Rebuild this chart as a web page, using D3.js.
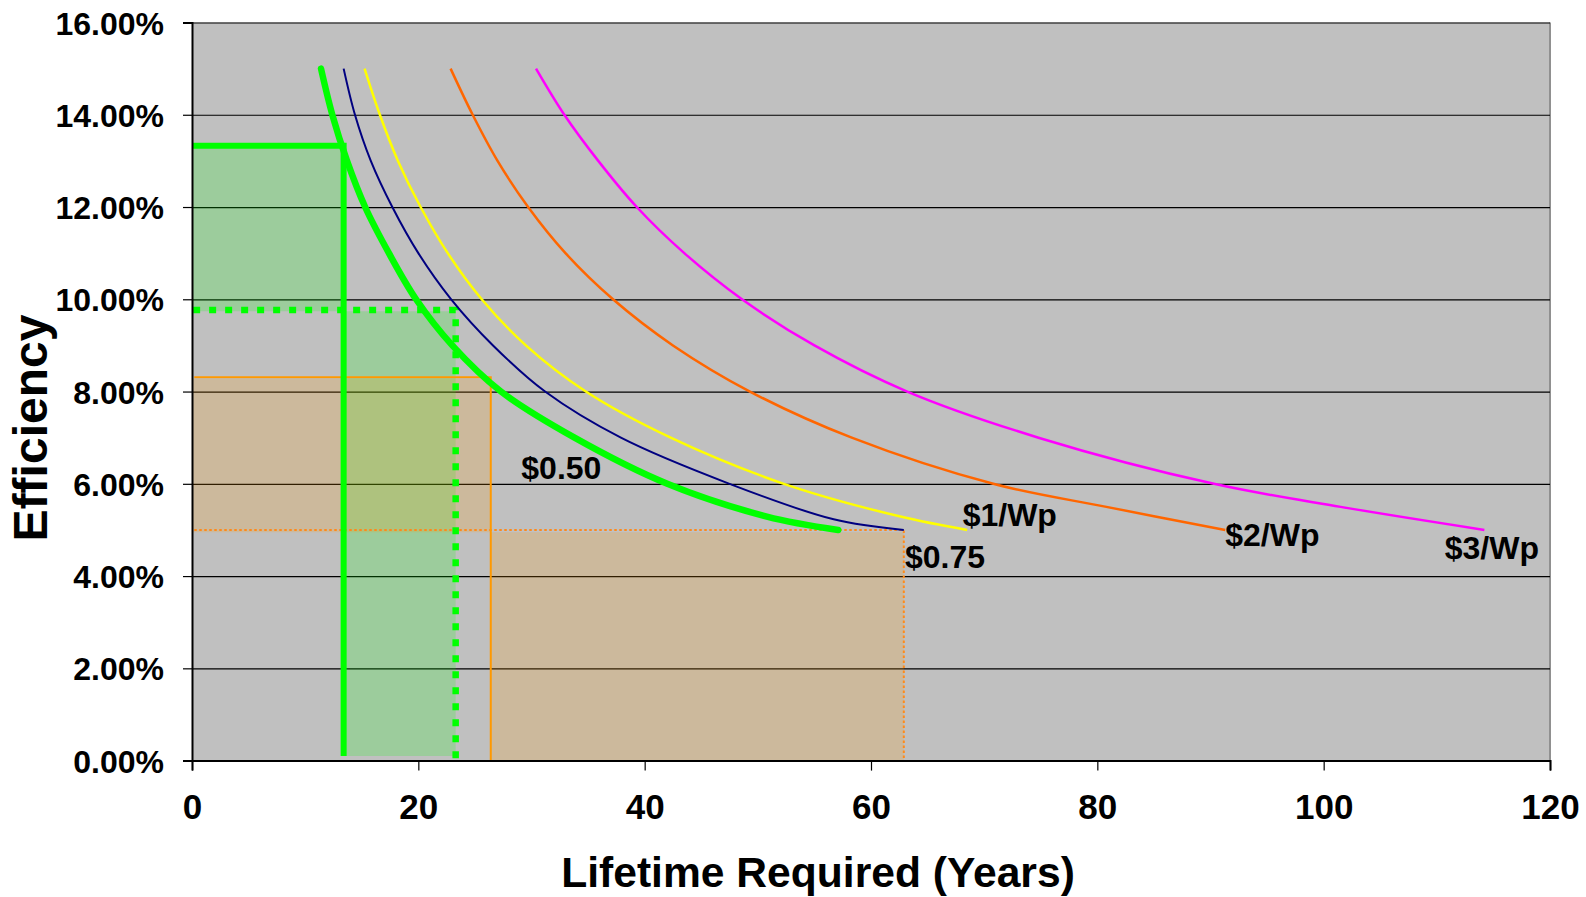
<!DOCTYPE html>
<html>
<head>
<meta charset="utf-8">
<script src="https://cdn.jsdelivr.net/npm/d3@7"></script>
<style>
  html, body { margin: 0; padding: 0; background: #ffffff; }
  svg { display: block; font-family: "Liberation Sans", Arial, sans-serif; font-weight: bold; }
</style>
</head>
<body>
<svg id="chart" width="1586" height="897"></svg>
<script>
// ---------------- DATA ----------------
const xTicks = [0, 20, 40, 60, 80, 100, 120];
const yTicks = [0, 2, 4, 6, 8, 10, 12, 14, 16];

// [lifetime (years), efficiency (%)]
const curve050 = [[11.4,15],[12.4,14],[13.7,13],[15.3,12],[17.4,11],[19.8,10],[23.0,9],[27.3,8],[33.8,7],[42.0,6],[50.8,5.29],[57.1,5]];
const curve075 = [[13.4,15],[14.4,14],[15.8,13],[17.7,12],[20.0,11],[22.9,10],[26.6,9],[31.2,8],[37.9,7],[47.5,6],[56.7,5.23],[62.9,5]];
const curve1 = [[15.25,15],[16.6,14],[18.2,13],[20.2,12],[22.6,11],[25.6,10],[29.5,9],[34.8,8],[42.3,7],[52.3,6],[62.6,5.29],[68.5,5]];
const curve2 = [[22.85,15],[24.8,14],[27.0,13],[29.7,12],[33.0,11],[37.2,10],[42.5,9],[49.3,8],[58.3,7],[70.8,6],[80.8,5.5],[91.3,5]];
const curve3 = [[30.4,15],[32.9,14],[35.9,13],[39.3,12],[43.5,11],[48.6,10],[55.0,9],[63.2,8],[74.8,7],[90.3,6],[101.5,5.5],[114.2,5]];

const curveNames = ["$0.50", "$0.75", "$1/Wp", "$2/Wp", "$3/Wp"];
const curveColors = ["#00ff00", "#000080", "#ffff00", "#ff6600", "#ff00ff"];
const curveWidths = [6.5, 2, 2.5, 2.5, 2.5];
const curveData = [curve050, curve075, curve1, curve2, curve3];
// label anchor points [lifetime, efficiency]
const labelPos = [[29.1, 6.1], [63.0, 4.18], [68.1, 5.09], [91.3, 4.65], [110.7, 4.37]];

// highlighted regions (lifetime, efficiency)
const greenSolid = { x: 13.4, y: 13.33 };
const greenDotted = { x: 23.3, y: 9.77 };
const orangeSolid = { x: 26.4, y: 8.31 };
const orangeDotted = { x: 62.9, y: 5.0 };

// ---------------- LAYOUT ----------------
const svg = d3.select("#chart");
const X0 = 192, X1 = 1550, Y0 = 760.6, Y1 = 22.5;
const x = d3.scaleLinear().domain([0, 120]).range([X0, X1]);
const y = d3.scaleLinear().domain([0, 16]).range([Y0, Y1]);

// plot background
svg.append("rect").attr("x", X0).attr("y", Y1).attr("width", X1 - X0).attr("height", Y0 - Y1)
  .attr("fill", "#c0c0c0");
// right border
svg.append("line").attr("x1", X1).attr("x2", X1).attr("y1", Y1).attr("y2", Y0)
  .attr("stroke", "#909090").attr("stroke-width", 2);

// gridlines
const grid = svg.append("g").attr("transform", `translate(${X0},0)`)
  .call(d3.axisLeft(y).tickValues(yTicks).tickSize(-(X1 - X0)).tickFormat(""));
grid.select(".domain").remove();
grid.selectAll("line").attr("stroke", "#000").attr("stroke-width", 1.2);

// ---- filled regions ----
const fills = svg.append("g");
const rect = (g, x0, x1, y0, y1, color, op) =>
  g.append("rect").attr("x", x(x0)).attr("y", y(y1)).attr("width", x(x1) - x(x0))
   .attr("height", y(y0) - y(y1)).attr("fill", color).attr("fill-opacity", op);
// green
rect(fills, 0, greenSolid.x, greenDotted.y - 0.03, greenSolid.y, "#00ff00", 0.19);
rect(fills, greenSolid.x, greenDotted.x, 0.1, greenDotted.y - 0.03, "#00ff00", 0.19);
// tan/orange
rect(fills, 0, orangeSolid.x, orangeDotted.y - 0.05, orangeSolid.y - 0.04, "#ff9900", 0.19);
rect(fills, orangeSolid.x, orangeDotted.x, 0, orangeDotted.y - 0.05, "#ff9900", 0.19);

// ---- reference lines ----
const ref = svg.append("g").attr("fill", "none");
const path = d3.line().x(d => x(d[0])).y(d => y(d[1]));
// orange dotted
ref.append("path").attr("d", path([[0.2, orangeDotted.y], [orangeDotted.x, orangeDotted.y], [orangeDotted.x, 0]]))
  .attr("stroke", "#ff8a1a").attr("stroke-width", 2).attr("stroke-dasharray", "2.5,2.5");
// orange solid
ref.append("path").attr("d", path([[0.2, orangeSolid.y], [orangeSolid.x, orangeSolid.y], [orangeSolid.x, 0]]))
  .attr("stroke", "#ff9900").attr("stroke-width", 2);
// green dotted
ref.append("path").attr("d", path([[0.1, greenDotted.y], [greenDotted.x, greenDotted.y], [greenDotted.x, 0]]))
  .attr("stroke", "#00ff00").attr("stroke-width", 6.5).attr("stroke-dasharray", "7,9");
// green solid
ref.append("path").attr("d", path([[0, greenSolid.y], [greenSolid.x, greenSolid.y], [greenSolid.x, 0.1]]))
  .attr("stroke", "#00ff00").attr("stroke-width", 6);

// ---- curves ----
const curveLine = d3.line().x(d => x(d[0])).y(d => y(d[1])).curve(d3.curveCatmullRom.alpha(0.5));
const order = [4, 3, 2, 1, 0];
order.forEach(i => {
  svg.append("path").attr("d", curveLine(curveData[i])).attr("fill", "none")
    .attr("stroke", curveColors[i]).attr("stroke-width", curveWidths[i])
    .attr("stroke-linecap", i === 0 ? "round" : "butt").attr("stroke-linejoin", "round");
});

// ---- curve labels ----
svg.append("g").selectAll("text").data(curveNames).join("text")
  .attr("x", (d, i) => x(labelPos[i][0]))
  .attr("y", (d, i) => y(labelPos[i][1]))
  .attr("font-size", 32).attr("fill", "#000").text(d => d);

// ---- axes ----
const yAxis = svg.append("g").attr("transform", `translate(${X0},0)`)
  .call(d3.axisLeft(y).tickValues(yTicks).tickSize(9).tickPadding(19).tickFormat(d => d.toFixed(2) + "%"));
yAxis.select(".domain").attr("stroke", "#000").attr("stroke-width", 2);
yAxis.selectAll(".tick line").attr("stroke", "#000").attr("stroke-width", 1.2);
yAxis.selectAll("text").attr("font-size", 32).attr("font-family", "Liberation Sans, Arial, sans-serif")
  .attr("font-weight", "bold").attr("fill", "#000").attr("dy", "0.36em");

const xAxis = svg.append("g").attr("transform", `translate(0,${Y0})`)
  .call(d3.axisBottom(x).tickValues(xTicks).tickSize(10).tickPadding(24).tickFormat(d3.format("d")));
xAxis.select(".domain").attr("stroke", "#000").attr("stroke-width", 2);
xAxis.selectAll(".tick line").attr("stroke", "#000").attr("stroke-width", 1.2);
xAxis.selectAll("text").attr("font-size", 35).attr("font-family", "Liberation Sans, Arial, sans-serif")
  .attr("font-weight", "bold").attr("fill", "#000");

// ---- titles ----
svg.append("text").attr("x", 818).attr("y", 887).attr("text-anchor", "middle")
  .attr("font-size", 42.6).attr("fill", "#000").text("Lifetime Required (Years)");
svg.append("text").attr("transform", "translate(47,428) rotate(-90)").attr("text-anchor", "middle")
  .attr("font-size", 48).attr("fill", "#000").text("Efficiency");
</script>
</body>
</html>
